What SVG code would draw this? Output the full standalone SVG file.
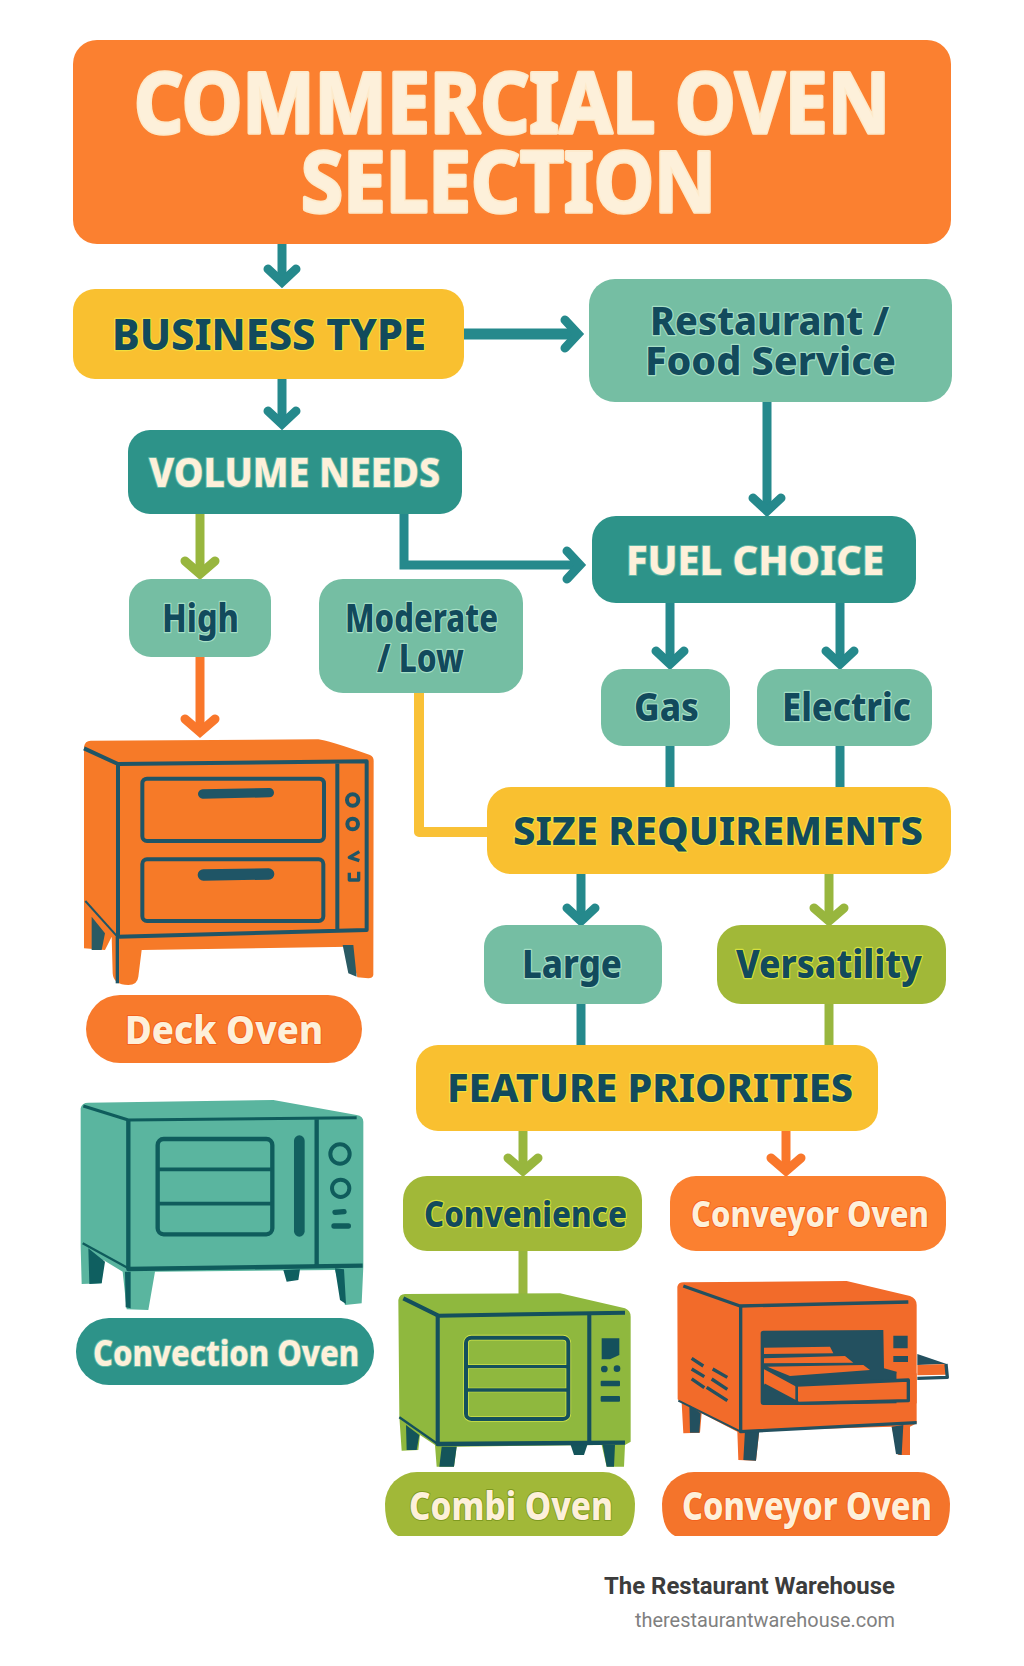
<svg xmlns="http://www.w3.org/2000/svg" width="1024" height="1666" viewBox="0 0 1024 1666">
<style>
text{font-family:"Noto Sans","Open Sans","DejaVu Sans",sans-serif;font-weight:800;paint-order:stroke fill;stroke-linejoin:round}
.d{fill:#124a5c;stroke-width:2.4}
.c{fill:#fdf0da;stroke-width:2}
.ttl{font-weight:700;stroke:#fdeacb;stroke-width:3.5}
.on-y{stroke:#f2df3c}.on-m{stroke:#a6dfc6}.on-o{stroke:#d6e03e}
.on-r{stroke:#f4611c}.on-t{stroke:#5fb7a6}
.or{fill:#fb8030}.ye{fill:#f9c030}.te{fill:#2d9389}.mi{fill:#75bea3}.ol{fill:#a1b838}
.ln{fill:none;stroke-width:9}
.teal{stroke:#25898c}.olive{stroke:#98b63e}.orange{stroke:#f9772b}.yellow{stroke:#f9c136}
.v{fill:none;stroke-width:9;stroke-linecap:round;stroke-linejoin:miter}
.foot1{font-family:Roboto,"Liberation Sans",sans-serif;font-weight:700;fill:#3c3c3c;font-size:24px}
.foot2{font-family:Roboto,"Liberation Sans",sans-serif;font-weight:400;fill:#808080;font-size:20px}
</style>
<defs>
<marker id="aT" markerUnits="userSpaceOnUse" markerWidth="40" markerHeight="40" refX="24" refY="20" orient="auto"><path class="v teal" d="M12 6L25 20L12 34"/></marker>
<marker id="aO" markerUnits="userSpaceOnUse" markerWidth="40" markerHeight="40" refX="24" refY="20" orient="auto"><path class="v olive" d="M12 5L25 20L12 35"/></marker>
<marker id="aR" markerUnits="userSpaceOnUse" markerWidth="40" markerHeight="40" refX="24" refY="20" orient="auto"><path class="v orange" d="M12 5L25 20L12 35"/></marker>
</defs>
<rect width="1024" height="1666" fill="#fff"/>

<g id="connectors">
<path class="ln teal" d="M282 244V281" marker-end="url(#aT)"/>
<path class="ln teal" style="stroke-width:11" d="M464 334H577" marker-end="url(#aT)"/>
<path class="ln teal" d="M282 379V423" marker-end="url(#aT)"/>
<path class="ln teal" d="M767 402V510" marker-end="url(#aT)"/>
<path class="ln olive" d="M200 514V573" marker-end="url(#aO)"/>
<path class="ln teal" d="M404 514V565H579" marker-end="url(#aT)"/>
<path class="ln orange" d="M200 657V731" marker-end="url(#aR)"/>
<path class="ln yellow" style="stroke-width:10" stroke-linejoin="round" d="M419 693V832H487"/>
<path class="ln teal" d="M670 603V663" marker-end="url(#aT)"/>
<path class="ln teal" d="M840 603V663" marker-end="url(#aT)"/>
<path class="ln teal" d="M670 746V787"/>
<path class="ln teal" d="M840 746V787"/>
<path class="ln teal" d="M581 874V920" marker-end="url(#aT)"/>
<path class="ln olive" d="M829 874V920" marker-end="url(#aO)"/>
<path class="ln teal" d="M581 1004V1045"/>
<path class="ln olive" d="M829 1004V1045"/>
<path class="ln olive" d="M523 1131V1170" marker-end="url(#aO)"/>
<path class="ln orange" d="M786 1131V1170" marker-end="url(#aR)"/>
<path class="ln olive" d="M523 1251V1300"/>
</g>

<g id="title"><rect class="or" x="73" y="40" width="878" height="204" rx="24"/>
<text class="c ttl" x="134" y="133" font-size="84" textLength="756" lengthAdjust="spacingAndGlyphs">COMMERCIAL OVEN</text>
<text class="c ttl" x="301" y="212" font-size="84" textLength="415" lengthAdjust="spacingAndGlyphs">SELECTION</text></g>

<g id="business-type"><rect class="ye" x="73" y="289" width="391" height="90" rx="22"/>
<text class="d on-y" x="112" y="350" font-size="42" textLength="314" lengthAdjust="spacingAndGlyphs">BUSINESS TYPE</text></g>

<g id="restaurant"><rect class="mi" x="589" y="279" width="363" height="123" rx="26"/>
<text class="d on-m" x="650" y="335" font-size="40" textLength="239" lengthAdjust="spacingAndGlyphs">Restaurant /</text>
<text class="d on-m" x="645" y="375" font-size="40" textLength="251" lengthAdjust="spacingAndGlyphs">Food Service</text></g>

<g id="volume-needs"><rect class="te" x="128" y="430" width="334" height="84" rx="22"/>
<text class="c on-t" x="149" y="487" font-size="41" textLength="291" lengthAdjust="spacingAndGlyphs">VOLUME NEEDS</text></g>

<g id="fuel-choice"><rect class="te" x="592" y="516" width="324" height="87" rx="24"/>
<text class="c on-t" x="626" y="575" font-size="41" textLength="258" lengthAdjust="spacingAndGlyphs">FUEL CHOICE</text></g>

<g id="high"><rect class="mi" x="129" y="579" width="142" height="78" rx="22"/>
<text class="d on-m" x="162" y="632" font-size="39" textLength="77" lengthAdjust="spacingAndGlyphs">High</text></g>

<g id="moderate-low"><rect class="mi" x="319" y="579" width="204" height="114" rx="24"/>
<text class="d on-m" x="345" y="632" font-size="39" textLength="153" lengthAdjust="spacingAndGlyphs">Moderate</text>
<text class="d on-m" x="377" y="672" font-size="39" textLength="87" lengthAdjust="spacingAndGlyphs">/ Low</text></g>

<g id="gas"><rect class="mi" x="601" y="669" width="129" height="77" rx="22"/>
<text class="d on-m" x="634" y="721" font-size="39" textLength="65" lengthAdjust="spacingAndGlyphs">Gas</text></g>

<g id="electric"><rect class="mi" x="757" y="669" width="175" height="77" rx="22"/>
<text class="d on-m" x="782" y="721" font-size="39" textLength="129" lengthAdjust="spacingAndGlyphs">Electric</text></g>

<g id="size-requirements"><rect class="ye" x="487" y="787" width="464" height="87" rx="24"/>
<text class="d on-y" x="513" y="845" font-size="39" textLength="410" lengthAdjust="spacingAndGlyphs">SIZE REQUIREMENTS</text></g>

<g id="large"><rect class="mi" x="484" y="925" width="178" height="79" rx="22"/>
<text class="d on-m" x="522" y="978" font-size="39" textLength="100" lengthAdjust="spacingAndGlyphs">Large</text></g>

<g id="versatility"><rect class="ol" x="717" y="925" width="229" height="79" rx="24"/>
<text class="d on-o" x="736" y="978" font-size="39" textLength="186" lengthAdjust="spacingAndGlyphs">Versatility</text></g>

<g id="feature-priorities"><rect class="ye" x="416" y="1045" width="462" height="86" rx="22"/>
<text class="d on-y" x="447" y="1102" font-size="39" textLength="406" lengthAdjust="spacingAndGlyphs">FEATURE PRIORITIES</text></g>

<g id="convenience"><rect class="ol" x="403" y="1176" width="239" height="75" rx="24"/>
<text class="d on-o" x="424" y="1227" font-size="36" textLength="203" lengthAdjust="spacingAndGlyphs">Convenience</text></g>

<g id="conveyor-choice"><rect class="or" x="670" y="1176" width="276" height="75" rx="26"/>
<text class="c on-r" x="691" y="1227" font-size="36" textLength="238" lengthAdjust="spacingAndGlyphs">Conveyor Oven</text></g>

<g id="deck-oven-img" transform="translate(60 720) scale(.33333)">
<path fill="#f67a28" d="M72 80Q75 62 92 62L775 58Q800 60 930 105Q942 110 941 125L940 765Q938 775 925 775L892 772L868 680L245 690L235 770Q232 795 205 795Q160 795 158 760L155 650L135 690L72 685Z"/>
<g fill="none" stroke="#1f5566" stroke-linejoin="round">
<path stroke-width="12" d="M72 85L174 132L920 124V630L174 650V132M832 128V628"/>
<path stroke-width="6" d="M76 543L172 650"/>
<path stroke-width="10" d="M172 650V790"/>
<rect stroke-width="12" x="247" y="176" width="545" height="187" rx="14"/>
<rect stroke-width="12" x="247" y="418" width="543" height="185" rx="14"/>
<path stroke-width="28" stroke-linecap="round" d="M428 222L628 218"/>
<path stroke-width="34" stroke-linecap="round" d="M430 465L626 462"/>
<circle stroke-width="12" cx="878" cy="240" r="17"/>
<circle stroke-width="12" cx="878" cy="312" r="16"/>
<path stroke-width="10" d="M898 395L868 412L898 422M868 458V480H896V455"/>
</g>
<path fill="#2a5a63" d="M95 590L135 640L125 690L95 690ZM848 675L880 675L890 770L865 760Z"/>
</g>

<g id="deck-oven"><rect class="or" x="86" y="995" width="276" height="68" rx="34" style="fill:#f87a2c"/>
<text class="c on-r" x="125" y="1044" font-size="40" textLength="198" lengthAdjust="spacingAndGlyphs">Deck Oven</text></g>

<g id="convection-oven-img" transform="translate(60 1080) scale(.33333)">
<path fill="#5ab59f" d="M62 85Q65 68 85 68L640 60L890 105Q910 108 910 125V560L905 670L855 675L825 570L285 575L265 690L200 688L188 575L130 540L125 610L65 612L62 500Z"/>
<path fill="#0f5f60" d="M85 505L135 545L125 610L88 612ZM670 570L720 568L715 600L680 605ZM825 565L852 568L858 672L840 660ZM195 575L212 575L212 685L197 682Z"/>
<g fill="none" stroke="#0f5c5c" stroke-linejoin="round">
<path stroke-width="9" d="M70 78L205 120L890 113"/>
<path stroke-width="13" d="M205 120V567L908 557M770 118V555"/>
<path stroke-width="7" d="M68 490L205 565"/>
<rect stroke-width="13" x="293" y="177" width="344" height="286" rx="18"/>
<path stroke-width="11" d="M295 268H635M295 371H635"/>
<path stroke-width="32" stroke-linecap="round" stroke="#125f5f" d="M718 182V454"/>
<circle stroke-width="12" cx="840" cy="222" r="29"/>
<circle stroke-width="12" cx="842" cy="325" r="26"/>
<path stroke-width="16" stroke-linecap="round" d="M825 397L852 395M822 438H865"/>
</g>
</g>

<g id="convection-oven"><rect class="te" x="76" y="1318" width="298" height="67" rx="33"/>
<text class="c on-t" x="93" y="1366" font-size="36" textLength="266" lengthAdjust="spacingAndGlyphs">Convection Oven</text></g>

<g id="combi-oven-img" transform="translate(380 1270) scale(.33333)">
<path fill="#8fb83e" d="M55 90Q58 72 75 72L540 70L735 115Q752 122 752 140V515L735 525L732 590L680 590L665 525L230 530L222 590L170 590L165 525L120 495L115 540L65 542L58 440Z"/>
<path fill="#14545a" d="M78 465L118 495L110 540L80 540ZM185 530L230 530L222 590L178 590ZM572 525L622 525L612 555L582 555ZM668 525L705 525L702 590L680 590Z"/>
<g fill="none" stroke="#cfe24a" stroke-width="17" stroke-linejoin="round">
<rect x="258" y="203" width="307" height="244" rx="16"/>
<path stroke-width="14" d="M260 290H563M260 360H563M173 137V522M628 132V518"/>
</g>
<g fill="none" stroke="#14505c" stroke-linejoin="round">
<path stroke-width="12" d="M70 85L175 137L735 128"/>
<path stroke-width="13" d="M173 137V522L735 518M628 132V518"/>
<path stroke-width="7" d="M58 442L173 522"/>
<rect stroke-width="12" x="258" y="203" width="307" height="244" rx="16"/>
<path stroke-width="10" d="M260 290H563M260 360H563"/>
</g>
<g fill="#14505c"><path d="M665 205H718V255L690 268H665Z"/><circle cx="673" cy="297" r="10"/><circle cx="711" cy="296" r="10"/><rect x="662" y="332" width="58" height="17" rx="3"/><rect x="662" y="378" width="58" height="17" rx="3"/></g>
</g>

<g id="combi-oven"><path class="ol" d="M417 1472H603A32 32 0 0 1 635 1504Q635 1530 622 1536H398Q385 1530 385 1504A32 32 0 0 1 417 1472Z"/>
<text class="c on-o" style="stroke:#7f9a20" x="409" y="1520" font-size="39" textLength="204" lengthAdjust="spacingAndGlyphs">Combi Oven</text></g>

<g id="conveyor-oven-img" transform="translate(650 1270) scale(.33333)">
<path fill="#f26b2a" d="M82 50Q85 37 100 37L590 33L780 78Q800 85 800 105V460L780 470V555L745 555L725 470L328 482L318 572L265 570L262 485L155 430L150 488L100 490L95 398L83 388Z"/>
<path fill="#23505f" d="M332 190Q332 182 340 182L700 180L702 295L740 305V400L445 405L340 405Q332 405 332 395Z"/>
<path fill="#f26b2a" d="M342 233L540 230L550 250L342 252ZM342 265L585 258L610 278L342 280ZM352 290L640 285L660 300L420 318Z"/>
<path fill="#f26b2a" d="M740 310H800V400H740Z"/>
<path fill="#f26b2a" stroke="#23505f" stroke-width="10" stroke-linejoin="round" d="M342 292L440 345L775 330V392L445 400L342 345"/>
<path fill="none" stroke="#23505f" stroke-width="8" d="M440 345V400"/>
<path fill="#23505f" d="M730 197H773V235H730ZM730 258H774V276H730ZM802 252L890 282L802 285ZM118 405L152 430L148 488L120 488ZM285 480L328 480L318 572L280 570ZM725 470L760 465L755 555L738 552Z"/>
<path fill="#f26b2a" d="M802 285L888 282V314L802 316Z"/>
<g fill="none" stroke="#23505f" stroke-linejoin="round">
<path stroke-width="10" d="M888 282L892 322L802 325"/>
<path stroke-width="10" d="M100 48L270 108L775 96"/>
<path stroke-width="10" d="M272 108V485L800 458"/>
<path stroke-width="6" d="M85 392L272 485"/>
<path stroke-width="10" d="M125 265L160 288M125 297L163 320M125 327L163 353M188 297L232 322M185 327L232 358M170 352L232 392"/>
</g>
</g>

<g id="conveyor-oven"><path class="or" style="fill:#f4742b" d="M694 1472H918A32 32 0 0 1 950 1504Q950 1530 937 1536H675Q662 1530 662 1504A32 32 0 0 1 694 1472Z"/>
<text class="c on-r" x="682" y="1520" font-size="39" textLength="250" lengthAdjust="spacingAndGlyphs">Conveyor Oven</text></g>

<g id="credit">
<text class="foot1" x="604" y="1594" textLength="291" lengthAdjust="spacingAndGlyphs">The Restaurant Warehouse</text>
<text class="foot2" x="635" y="1627" textLength="260" lengthAdjust="spacingAndGlyphs">therestaurantwarehouse.com</text>
</g>
</svg>
